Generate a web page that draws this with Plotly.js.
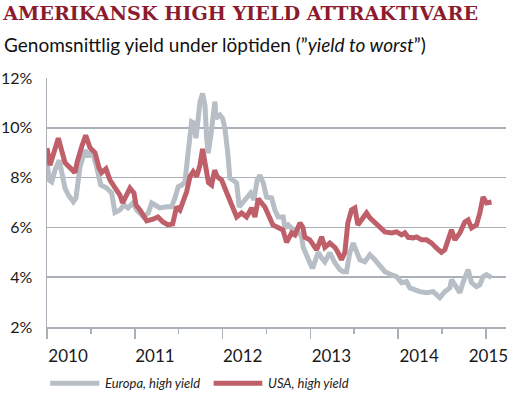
<!DOCTYPE html>
<html>
<head>
<meta charset="utf-8">
<script src="https://cdn.plot.ly/plotly-3.0.1.min.js"></script>
<style>html,body{margin:0;padding:0;background:#fff;}#chart{width:523px;height:397px;}</style>
</head>
<body>
<div id="chart"></div>
<script>
// Decimal-year x positions and yields (%)
const euDates = [2010.000,2010.026,2010.054,2010.091,2010.140,2010.167,2010.205,2010.243,2010.300,2010.330,2010.376,2010.433,2010.470,2010.509,2010.566,2010.612,2010.680,2010.737,2010.774,2010.831,2010.877,2010.923,2010.980,2011.022,2011.059,2011.097,2011.154,2011.192,2011.230,2011.287,2011.363,2011.420,2011.458,2011.495,2011.534,2011.572,2011.609,2011.629,2011.648,2011.678,2011.697,2011.723,2011.743,2011.773,2011.800,2011.819,2011.837,2011.868,2011.894,2011.913,2011.925,2011.970,2012.001,2012.027,2012.058,2012.084,2012.118,2012.161,2012.190,2012.236,2012.274,2012.320,2012.358,2012.395,2012.426,2012.464,2012.502,2012.559,2012.597,2012.634,2012.692,2012.711,2012.748,2012.805,2012.844,2012.901,2012.919,2012.958,2013.015,2013.033,2013.090,2013.129,2013.166,2013.223,2013.280,2013.337,2013.375,2013.413,2013.451,2013.489,2013.527,2013.565,2013.622,2013.679,2013.736,2013.793,2013.850,2013.926,2013.983,2014.040,2014.097,2014.134,2014.191,2014.248,2014.325,2014.400,2014.476,2014.533,2014.590,2014.609,2014.647,2014.704,2014.740,2014.798,2014.837,2014.894,2014.932,2014.969,2015.008,2015.046,2015.065];
const euYield = [8.64,7.9,7.83,8.3,8.7,8.18,7.58,7.3,7.03,7.18,8.43,9.1,8.83,9.1,8.43,7.7,7.58,7.38,6.6,6.7,6.9,6.78,6.98,6.7,6.58,6.43,6.58,6.98,6.9,6.78,6.83,6.83,7.18,7.63,7.7,7.83,9.04,9.84,10.24,10.18,9.58,10.38,11.05,11.38,10.9,9.58,8.98,9.71,10.51,11.05,10.38,10.51,10.38,9.98,9.04,7.97,7.9,7.78,6.82,7.03,7.22,7.38,7.1,7.9,8.1,7.78,7.22,7.18,6.7,6.42,6.42,5.98,6.1,5.9,5.9,5.62,5.2,4.9,4.42,4.42,5.0,4.78,4.62,4.98,4.58,4.3,4.22,4.22,5.0,5.37,5.0,4.7,4.62,4.9,4.7,4.42,4.22,4.1,4.02,3.78,3.82,3.57,3.5,3.42,3.38,3.42,3.18,3.42,3.57,3.9,3.7,3.38,3.78,4.3,3.78,3.62,3.7,4.02,4.1,4.02,3.98];

const usDates = [2010.000,2010.034,2010.129,2010.167,2010.205,2010.319,2010.342,2010.395,2010.441,2010.490,2010.547,2010.592,2010.623,2010.672,2010.718,2010.774,2010.831,2010.862,2010.908,2010.945,2010.991,2011.014,2011.059,2011.105,2011.136,2011.207,2011.264,2011.321,2011.378,2011.432,2011.477,2011.515,2011.552,2011.591,2011.629,2011.666,2011.705,2011.743,2011.773,2011.800,2011.840,2011.876,2011.910,2011.940,2011.990,2012.047,2012.104,2012.161,2012.218,2012.274,2012.331,2012.369,2012.407,2012.483,2012.574,2012.654,2012.688,2012.730,2012.787,2012.825,2012.882,2012.916,2012.938,2012.995,2013.072,2013.129,2013.166,2013.223,2013.280,2013.314,2013.356,2013.394,2013.428,2013.470,2013.508,2013.542,2013.584,2013.641,2013.679,2013.736,2013.793,2013.850,2013.926,2013.983,2014.040,2014.077,2014.115,2014.172,2014.211,2014.268,2014.325,2014.382,2014.439,2014.495,2014.533,2014.572,2014.609,2014.647,2014.704,2014.761,2014.798,2014.837,2014.894,2014.932,2014.969,2015.008,2015.065];
const usYield = [9.18,8.5,9.58,9.1,8.6,8.2,8.6,9.24,9.7,9.2,9.0,8.4,8.2,8.35,7.9,7.6,7.3,6.98,7.3,7.58,7.38,6.9,6.7,6.43,6.26,6.33,6.42,6.22,6.1,6.14,6.83,6.7,7.03,7.43,8.04,8.24,8.04,8.5,9.15,8.64,7.8,7.7,8.3,8.04,7.9,7.4,6.9,6.42,6.58,6.42,6.78,6.42,7.15,6.82,6.1,5.98,5.9,5.4,5.78,5.7,6.18,6.0,5.6,5.5,5.1,5.62,5.2,5.37,5.2,5.0,4.7,5.0,6.18,6.7,6.78,6.1,6.3,6.58,6.38,6.18,6.02,5.82,5.78,5.82,5.7,5.78,5.6,5.58,5.62,5.5,5.5,5.37,5.17,5.0,5.1,5.5,5.9,5.5,5.78,6.22,6.3,5.98,6.1,6.58,7.22,6.98,7.02];

const seriesNames = ['Europa, high yield', 'USA, high yield'];
const yearTicks = [2010, 2011, 2012, 2013, 2014, 2015];
const yearLabels = ['2010', '2011', '2012', '2013', '2014', '2015'];
const yearLabelPos = [2010.24, 2011.23, 2012.23, 2013.24, 2014.24, 2015.03];
const yTicks = [2, 4, 6, 8, 10, 12];
const yTickText = ['2%', '4%', '6%', '8%', '10%', '12%'];

const GRAY = '#b7bec5';
const RED = '#bf5f6a';
const AXC = '#a9b0b8';
const FONT = 'Lato, "Open Sans", sans-serif';
const xr = [2010, 2015.23];

const traces = [
  {x: euDates, y: euYield, name: seriesNames[0], type: 'scatter', mode: 'lines',
   line: {color: GRAY, width: 5}, showlegend: false, hoverinfo: 'skip'},
  {x: usDates, y: usYield, name: seriesNames[1], type: 'scatter', mode: 'lines',
   line: {color: RED, width: 5}, showlegend: false, hoverinfo: 'skip'},
  // invisible trace to carry the year-label axis
  {x: yearLabelPos, y: yearLabelPos.map(() => null), xaxis: 'x2', type: 'scatter',
   mode: 'lines', showlegend: false, hoverinfo: 'skip'}
];

const layout = {
  width: 523, height: 397,
  margin: {l: 47, r: 17, t: 78, b: 70},
  paper_bgcolor: '#fff', plot_bgcolor: '#fff',
  font: {family: FONT, color: '#1a1a1a'},
  title: {text: '<b>AMERIKANSK HIGH YIELD ATTRAKTIVARE</b>',
          font: {family: '"DejaVu Serif", "Liberation Serif", serif', size: 19.2, color: '#8c1b2e'},
          x: 0.006, xanchor: 'left', xref: 'container', y: 0.966, yanchor: 'middle', yref: 'container'},
  xaxis: {range: xr, tickvals: yearTicks, ticktext: yearTicks.map(() => ''),
          ticks: 'outside', ticklen: 10, tickcolor: AXC, tickwidth: 1.5,
          minor: {dtick: 0.5, tick0: 2010, ticks: 'outside', ticklen: 5, tickcolor: AXC, tickwidth: 1.5, showgrid: false},
          showgrid: false, zeroline: false, showline: true, linecolor: AXC, linewidth: 1.5,
          fixedrange: true},
  xaxis2: {range: xr, overlaying: 'x', side: 'bottom', anchor: 'y',
           tickvals: yearLabelPos, ticktext: yearLabels, ticks: '',
           ticklabelstandoff: 17, showgrid: false, zeroline: false, showline: false,
           tickfont: {family: FONT, size: 17, color: '#1a1a1a'}, fixedrange: true},
  yaxis: {range: [2, 12], tickvals: yTicks, ticktext: yTickText, ticks: '',
          ticklabelstandoff: 10,
          showgrid: true, gridcolor: AXC, gridwidth: 1.5, zeroline: false,
          showline: true, linecolor: AXC, linewidth: 1.5,
          tickfont: {family: FONT, size: 16, color: '#1a1a1a'}, fixedrange: true},
  shapes: [
    {type: 'line', xref: 'paper', yref: 'paper', x0: 0.007, x1: 0.114, y0: -0.226, y1: -0.226,
     line: {color: GRAY, width: 5}},
    {type: 'line', xref: 'paper', yref: 'paper', x0: 0.363, x1: 0.469, y0: -0.226, y1: -0.226,
     line: {color: RED, width: 5}}
  ],
  annotations: [
    {text: 'Genomsnittlig yield under löptiden (”<i>yield to worst</i>”)', xref: 'paper', yref: 'paper',
     x: -0.098, y: 1.135, xanchor: 'left', yanchor: 'middle', showarrow: false,
     font: {family: FONT, size: 19, color: '#111'}},
    {text: '<i>' + seriesNames[0] + '</i>', xref: 'paper', yref: 'paper', x: 0.122, y: -0.226,
     xanchor: 'left', yanchor: 'middle', showarrow: false, font: {family: FONT, size: 13, color: '#222'}},
    {text: '<i>' + seriesNames[1] + '</i>', xref: 'paper', yref: 'paper', x: 0.477, y: -0.226,
     xanchor: 'left', yanchor: 'middle', showarrow: false, font: {family: FONT, size: 13, color: '#222'}}
  ]
};

Plotly.newPlot('chart', traces, layout, {displayModeBar: false, staticPlot: true});
</script>
</body>
</html>
